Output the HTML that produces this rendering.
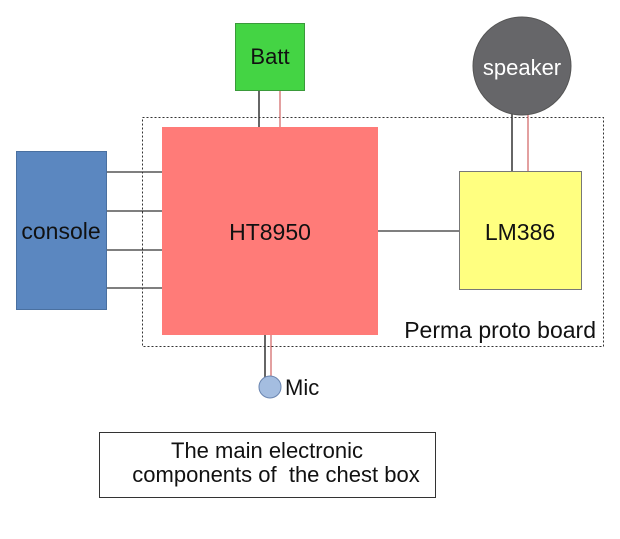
<!DOCTYPE html>
<html><head><style>body{margin:0;background:#fff}</style></head><body>
<svg width="620" height="534" xmlns="http://www.w3.org/2000/svg" font-family="Liberation Sans, sans-serif">
<rect x="142.5" y="117.5" width="461" height="229" fill="none" stroke="#333" stroke-dasharray="2,2"/>
<line x1="259" y1="91" x2="259" y2="127" stroke="#333" stroke-width="1.5"/>
<line x1="280" y1="91" x2="280" y2="127" stroke="#d06060" stroke-width="1.2"/>
<line x1="512" y1="112" x2="512" y2="171" stroke="#333" stroke-width="1.5"/>
<line x1="528" y1="112" x2="528" y2="171" stroke="#d06060" stroke-width="1.2"/>
<line x1="265" y1="335" x2="265" y2="378" stroke="#333" stroke-width="1.5"/>
<line x1="271" y1="335" x2="271" y2="376" stroke="#d06060" stroke-width="1.2"/>
<g stroke="#333" stroke-width="1.3">
<line x1="107" y1="172" x2="162" y2="172"/><line x1="107" y1="211" x2="162" y2="211"/>
<line x1="107" y1="250" x2="162" y2="250"/><line x1="107" y1="288" x2="162" y2="288"/>
<line x1="378" y1="231" x2="459" y2="231"/></g>
<rect x="235.5" y="23.5" width="69" height="67" fill="#44d444" stroke="#3a9a3a"/>
<text x="270" y="64" font-size="22" text-anchor="middle" fill="#111">Batt</text>
<circle cx="522" cy="66" r="49" fill="#666669" stroke="#555"/>
<text x="522" y="75" font-size="22" text-anchor="middle" fill="#fff">speaker</text>
<rect x="162" y="127" width="216" height="208" fill="#ff7b78"/>
<text x="270" y="240" font-size="23" text-anchor="middle" fill="#111">HT8950</text>
<rect x="16.5" y="151.5" width="90" height="158" fill="#5b87c0" stroke="#4a70a0"/>
<text x="61" y="239" font-size="23" text-anchor="middle" fill="#111">console</text>
<rect x="459.5" y="171.5" width="122" height="118" fill="#ffff80" stroke="#777"/>
<text x="520" y="240" font-size="23" text-anchor="middle" fill="#111">LM386</text>
<text x="596" y="338" font-size="23" text-anchor="end" fill="#111">Perma proto board</text>
<circle cx="270" cy="387" r="11" fill="#a4bde0" stroke="#6a85b0"/>
<text x="285" y="395" font-size="22" fill="#111">Mic</text>
<rect x="99.5" y="432.5" width="336" height="65" fill="#fff" stroke="#333"/>
<text x="267" y="458" font-size="22" text-anchor="middle" fill="#111">The main electronic</text>
<text x="276" y="482" font-size="22" text-anchor="middle" fill="#111" xml:space="preserve">components of  the chest box</text>
</svg>
</body></html>
